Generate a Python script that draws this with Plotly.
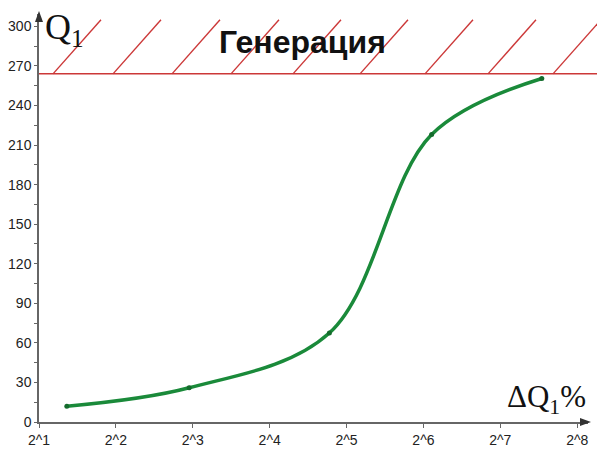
import plotly.graph_objects as go

# Data
dq_percent = [2.57, 7.74, 27.4, 68.9, 186.0]     # ΔQ1 %  (log2 axis)
q1_values = [12.0, 26.0, 67.5, 218.0, 260.5]     # Q1
generation_level = 264.0
x_tick_vals = [2, 4, 8, 16, 32, 64, 128, 256]
x_tick_text = ["2^1", "2^2", "2^3", "2^4", "2^5", "2^6", "2^7", "2^8"]
y_tick_vals = [0, 30, 60, 90, 120, 150, 180, 210, 240, 270, 300]
title_text = "Генерация"

W, H = 605, 454
OFF = 8  # page body margin
ML, MR, MT, MB = 31, 25, 6, 40
pw = W - ML - MR
ph = H - MT - MB


def px_to_paper_x(px):
    return (px - OFF - ML) / pw


def px_to_paper_y(py):
    return (H - MB + OFF - py) / ph


def tri_path(pts):
    s = "M " + " L ".join(f"{px_to_paper_x(a):.5f},{px_to_paper_y(b):.5f}" for a, b in pts)
    return s + " Z"


fig = go.Figure()
fig.add_trace(go.Scatter(
    x=dq_percent, y=q1_values, mode="lines+markers",
    line=dict(color="#1a8a3a", width=3.5, shape="spline", smoothing=1.0),
    marker=dict(color="#146b2c", size=5),
    showlegend=False, hoverinfo="skip", cliponaxis=False))

axis_col = "#666666"
fig.update_layout(
    width=W, height=H, margin=dict(l=ML, r=MR, t=MT, b=MB, autoexpand=False),
    paper_bgcolor="white", plot_bgcolor="white",
    font=dict(family="Liberation Sans, Arial, sans-serif", color="#222222"),
    xaxis=dict(type="log", range=[0.30103, 8.14 * 0.30103], automargin=False,
               tickvals=x_tick_vals, ticktext=x_tick_text,
               showgrid=False, zeroline=False, showline=True,
               linecolor=axis_col, linewidth=1.5,
               ticks="outside", ticklen=4, tickcolor=axis_col,
               tickfont=dict(size=14, color="#222222")),
    yaxis=dict(range=[0, 309.4], tickvals=y_tick_vals, automargin=False,
               showgrid=False, zeroline=False, showline=True,
               linecolor=axis_col, linewidth=1.5,
               ticks="outside", ticklen=3, tickcolor=axis_col,
               tickfont=dict(size=14, color="#222222"),
               minor=dict(dtick=15, ticks="outside", ticklen=3, tickcolor=axis_col)),
)

red = "#cc3838"
# Generation boundary line
fig.add_shape(type="line", xref="paper", yref="y",
              x0=0, x1=px_to_paper_x(610), y0=generation_level, y1=generation_level,
              line=dict(color=red, width=1.5))
# Hatching
hatch_px = [53, 113, 172, 231, 293, 360, 425, 488, 553]
for px in hatch_px:
    fig.add_shape(type="line", xref="paper", yref="y",
                  x0=px_to_paper_x(px), x1=px_to_paper_x(px + 48),
                  y0=generation_level, y1=305,
                  line=dict(color=red, width=1.4))

# Axis arrowheads
fig.add_shape(type="path", xref="paper", yref="paper",
              path=tri_path([(35, 22), (43, 22), (39, 11)]),
              fillcolor="#333333", line=dict(width=0))
fig.add_shape(type="path", xref="paper", yref="paper",
              path=tri_path([(580, 418), (580, 426), (591, 422)]),
              fillcolor="#333333", line=dict(width=0))

# Title in hatched area
fig.add_annotation(xref="paper", yref="y", x=px_to_paper_x(302), y=288,
                   text="<b>" + title_text + "</b>", showarrow=False,
                   font=dict(size=32, color="#111111",
                             family="Liberation Sans, Arial, sans-serif"))
# Axis labels
fig.add_annotation(xref="paper", yref="paper", x=px_to_paper_x(43), y=px_to_paper_y(5),
                   xanchor="left", yanchor="top",
                   text="Q<sub>1</sub>", showarrow=False,
                   font=dict(size=36, color="#111111",
                             family="Liberation Serif, Times New Roman, serif"))
fig.add_annotation(xref="paper", yref="y", x=px_to_paper_x(588), y=1,
                   xanchor="right", yanchor="bottom",
                   text="ΔQ<sub>1</sub>%", showarrow=False,
                   font=dict(size=31, color="#111111",
                             family="Liberation Serif, Times New Roman, serif"))

fig.write_html("out.html")
